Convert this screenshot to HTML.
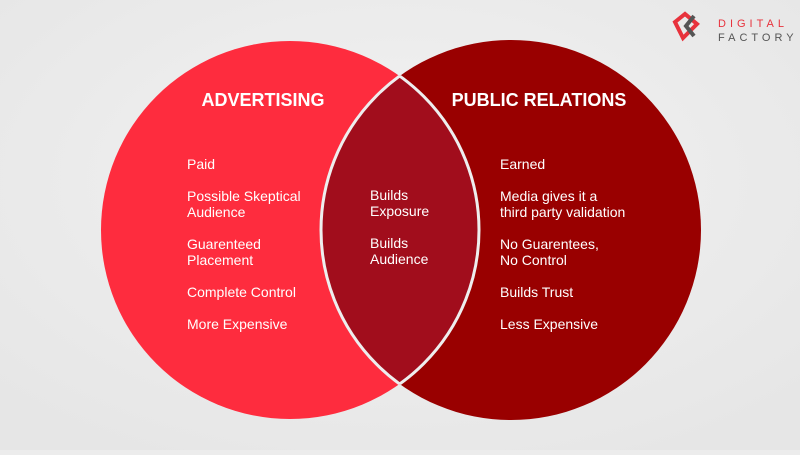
<!DOCTYPE html>
<html><head><style>
body{margin:0;width:800px;height:450px;overflow:hidden;background:#ececec;font-family:"Liberation Sans",sans-serif}
</style></head><body>
<svg width="800" height="450" viewBox="0 0 800 450" xmlns="http://www.w3.org/2000/svg">
<defs>
<clipPath id="cl"><circle cx="290" cy="230" r="189"/></clipPath>
<radialGradient id="bg" cx="50%" cy="40%" r="70%"><stop offset="0" stop-color="#f2f2f2"/><stop offset="1" stop-color="#e6e6e6"/></radialGradient>
</defs>
<rect width="800" height="450" fill="url(#bg)"/>
<circle cx="290" cy="230" r="189" fill="#fe2c3e"/>
<circle cx="511" cy="230" r="190" fill="#990000"/>
<circle cx="511" cy="230" r="190" fill="#a10d1c" clip-path="url(#cl)"/>
<g clip-path="url(#cl)"><circle cx="511" cy="230" r="190" fill="none" stroke="#eee" stroke-width="3"/></g>
<circle cx="290" cy="230" r="189" fill="none" stroke="#eee" stroke-width="3" clip-path="url(#cr)"/>
<clipPath id="cr"><circle cx="511" cy="230" r="190"/></clipPath>
<g fill="#fff" font-size="14">
<text x="263" y="106" font-size="18" font-weight="bold" text-anchor="middle">ADVERTISING</text>
<text x="539" y="106" font-size="18" font-weight="bold" text-anchor="middle">PUBLIC RELATIONS</text>
<text x="187" y="169">Paid</text>
<text x="187" y="201">Possible Skeptical</text>
<text x="187" y="217">Audience</text>
<text x="187" y="249">Guarenteed</text>
<text x="187" y="265">Placement</text>
<text x="187" y="297">Complete Control</text>
<text x="187" y="329">More Expensive</text>
<text x="370" y="200">Builds</text>
<text x="370" y="216">Exposure</text>
<text x="370" y="248">Builds</text>
<text x="370" y="264">Audience</text>
<text x="500" y="169">Earned</text>
<text x="500" y="201">Media gives it a</text>
<text x="500" y="217">third party validation</text>
<text x="500" y="249">No Guarentees,</text>
<text x="500" y="265">No Control</text>
<text x="500" y="297">Builds Trust</text>
<text x="500" y="329">Less Expensive</text>
</g>
<g>
<path d="M675 22 l10 -8 l12 10 l-6 6 l-8 8 z" fill="none" stroke="#e8323c" stroke-width="4"/>
<path d="M694 16 l-8 10 l8 10" fill="none" stroke="#555" stroke-width="4"/>
<text x="718" y="27" font-size="11" fill="#e8323c" letter-spacing="4">DIGITAL</text>
<text x="718" y="41" font-size="11" fill="#555" letter-spacing="4">FACTORY</text>
</g>
</svg>
</body></html>
